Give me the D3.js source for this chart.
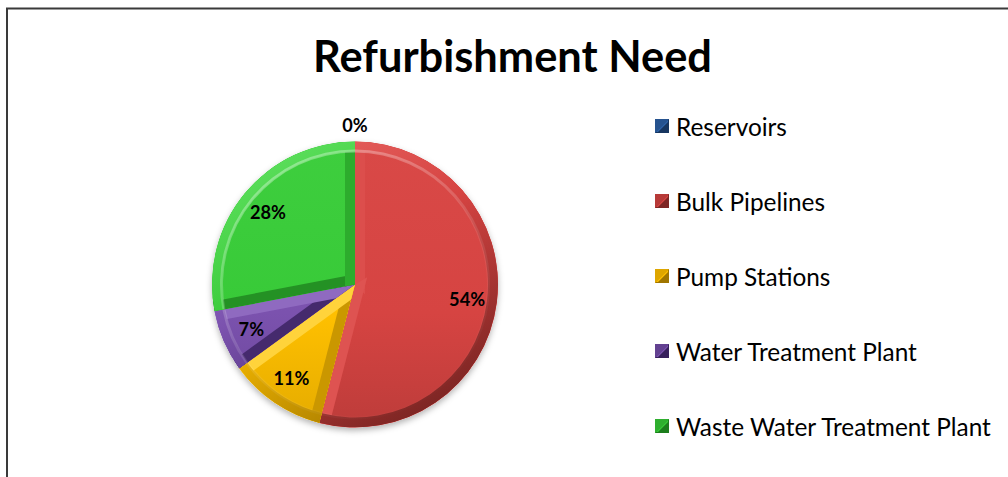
<!DOCTYPE html>
<html>
<head>
<meta charset="utf-8">
<script src="https://cdn.jsdelivr.net/npm/d3@7"></script>
<style>
  html, body { margin: 0; padding: 0; background: #fff; }
  svg { display: block; }
</style>
</head>
<body>
<svg id="chart" width="1008" height="477"></svg>
<script>
// ---- data ----
const title = "Refurbishment Need";
const categories = ["Reservoirs", "Bulk Pipelines", "Pump Stations", "Water Treatment Plant", "Waste Water Treatment Plant"];
const values = [0, 54, 11, 7, 28];
const faceColors  = ["#2e63a8", "#d64442", "#ffc000", "#7b52ae", "#38ca38"];
const lightColors = ["#4f80c4", "#e45e5c", "#ffd84a", "#9672c6", "#58dc58"];
const darkColors  = ["#173660", "#7e2624", "#a07600", "#37205c", "#1d7e1d"];

const W = 1008, H = 477;
const FONT = "Lato, 'Open Sans', sans-serif";
const svg = d3.select("#chart");
const defs = svg.append("defs");

// frame
svg.append("rect").attr("x", 7).attr("y", 8.5).attr("width", W + 10).attr("height", H + 10)
  .attr("fill", "none").attr("stroke", "#3a3a3a").attr("stroke-width", 2);

// helper to fit font size to a target width
function fitSize(text, weight, targetWidth) {
  const t = svg.append("text").attr("font-family", FONT).attr("font-weight", weight)
    .attr("font-size", 100).text(text);
  const w = t.node().getComputedTextLength();
  t.remove();
  return 100 * targetWidth / w;
}

// title
const titleSize = fitSize(title, "bold", 399);
svg.append("text").attr("x", 512.5).attr("y", 72).attr("text-anchor", "middle")
  .attr("font-family", FONT).attr("font-weight", "bold").attr("font-size", titleSize)
  .attr("fill", "#000").text(title);

// ---- pie ----
const cx = 355, cy = 284.5, R = 143, B = 10;
const pie = d3.pie().sort(null).value(d => d).startAngle(0).endAngle(2 * Math.PI);
const arcs = pie(values);
const arcFull = d3.arc().innerRadius(0).outerRadius(R);
const arcRing = d3.arc().innerRadius(R - B).outerRadius(R);
const arcHi = d3.arc().innerRadius(R - B - 1).outerRadius(R - B + 2);
const Lx = -0.5, Ly = -0.866;

// shadow filter
const f = defs.append("filter").attr("id", "shadow").attr("x", "-20%").attr("y", "-20%")
  .attr("width", "140%").attr("height", "140%");
f.append("feDropShadow").attr("dx", 0).attr("dy", 3).attr("stdDeviation", 3)
  .attr("flood-color", "#000").attr("flood-opacity", 0.3);

// highlight gradient for the inner rim of the bevel
const hg = defs.append("linearGradient").attr("id", "hi").attr("gradientUnits", "userSpaceOnUse")
  .attr("x1", Lx * R).attr("y1", Ly * R).attr("x2", -Lx * R).attr("y2", -Ly * R);
hg.append("stop").attr("offset", "0%").attr("stop-color", "#fff").attr("stop-opacity", 0.35);
hg.append("stop").attr("offset", "55%").attr("stop-color", "#fff").attr("stop-opacity", 0.1);
hg.append("stop").attr("offset", "100%").attr("stop-color", "#fff").attr("stop-opacity", 0);

const g = svg.append("g").attr("transform", `translate(${cx},${cy})`);
const shadowG = g.append("g").attr("filter", "url(#shadow)");
shadowG.selectAll("path").data(arcs.filter(d => d.value > 0)).join("path")
  .attr("d", arcFull).attr("fill", (d) => faceColors[d.index]);

arcs.forEach((d, i) => {
  if (d.value <= 0) return;
  const id = "clip" + i;
  defs.append("clipPath").attr("id", id).append("path").attr("d", arcFull(d));
  // face gradient
  const fg = defs.append("linearGradient").attr("id", "face" + i)
    .attr("gradientUnits", "userSpaceOnUse")
    .attr("x1", 0).attr("y1", -R).attr("x2", 0).attr("y2", R);
  fg.append("stop").attr("offset", "0%").attr("stop-color", d3.interpolateRgb(faceColors[i], lightColors[i])(0.2));
  fg.append("stop").attr("offset", "60%").attr("stop-color", faceColors[i]);
  fg.append("stop").attr("offset", "100%").attr("stop-color", d3.interpolateRgb(faceColors[i], darkColors[i])(0.28));
  // ring gradient (light from top-left)
  const rg = defs.append("linearGradient").attr("id", "ring" + i)
    .attr("gradientUnits", "userSpaceOnUse")
    .attr("x1", Lx * R).attr("y1", Ly * R).attr("x2", -Lx * R).attr("y2", -Ly * R);
  rg.append("stop").attr("offset", "0%").attr("stop-color", lightColors[i]);
  rg.append("stop").attr("offset", "40%").attr("stop-color", faceColors[i]);
  rg.append("stop").attr("offset", "100%").attr("stop-color", darkColors[i]);

  const sg = g.append("g").attr("clip-path", `url(#${id})`);
  sg.append("path").attr("d", arcFull(d)).attr("fill", `url(#face${i})`);

  const shade = t => t >= 0 ? d3.interpolateRgb(faceColors[i], lightColors[i])(t)
                            : d3.interpolateRgb(faceColors[i], darkColors[i])(-t);
  // radial edge bands
  const edges = [
    { a: d.startAngle, nIn: [Math.cos(d.startAngle), Math.sin(d.startAngle)] },
    { a: d.endAngle, nIn: [-Math.cos(d.endAngle), -Math.sin(d.endAngle)] }
  ];
  edges.forEach(e => {
    const u = [Math.sin(e.a), -Math.cos(e.a)];
    const nOut = [-e.nIn[0], -e.nIn[1]];
    const br = nOut[0] * Lx + nOut[1] * Ly;
    const pts = [
      [0, 0], [R * u[0], R * u[1]],
      [R * u[0] + B * e.nIn[0], R * u[1] + B * e.nIn[1]],
      [B * e.nIn[0] - B * u[0], B * e.nIn[1] - B * u[1]]
    ];
    sg.append("path").attr("d", d3.line()(pts) + "Z").attr("fill", shade(br * 0.8));
  });
  sg.append("path").attr("d", arcRing(d)).attr("fill", `url(#ring${i})`);
  sg.append("path").attr("d", arcHi(d)).attr("fill", "url(#hi)");
});

// labels
const labelArc = d3.arc().innerRadius(R * 0.79).outerRadius(R * 0.79);
const outerLabelArc = d3.arc().innerRadius(R + 17).outerRadius(R + 17);
const labelSize = fitSize("54%", "bold", 36);
g.selectAll("text.lbl").data(arcs).join("text").attr("class", "lbl")
  .attr("transform", d => `translate(${(d.value > 0 ? labelArc : outerLabelArc).centroid(d)})`)
  .attr("text-anchor", "middle").attr("dominant-baseline", "central")
  .attr("font-family", FONT).attr("font-weight", "bold").attr("font-size", labelSize)
  .attr("fill", "#000")
  .text(d => Math.round(d.value) + "%");

// ---- legend ----
const legendSize = fitSize(categories[4], "normal", 315);
const ly = d3.scalePoint().domain(categories).range([126, 426]);
const leg = svg.append("g");
categories.forEach((c, i) => {
  const y = ly(c);
  const x0 = 655, s = 14, y0 = y - 7;
  leg.append("rect").attr("x", x0).attr("y", y0).attr("width", s).attr("height", s).attr("fill", faceColors[i]);
  leg.append("path").attr("d", `M${x0},${y0 + s}L${x0 + s},${y0}L${x0},${y0}Z`).attr("fill", d3.interpolateRgb(faceColors[i], darkColors[i])(0.35));
  leg.append("path").attr("d", `M${x0},${y0 + s}L${x0 + s},${y0 + s}L${x0 + s},${y0}Z`).attr("fill", darkColors[i]);
  leg.append("path").attr("d", `M${x0 + 3},${y0 + s - 1}L${x0 + s - 1},${y0 + 3}L${x0 + s - 1},${y0 + 1}L${x0 + 1},${y0 + s - 1}Z`).attr("fill", faceColors[i]);
  leg.append("text").attr("x", 676).attr("y", y).attr("dominant-baseline", "central")
    .attr("font-family", FONT).attr("font-size", legendSize).attr("fill", "#000").text(c);
});
</script>
</body>
</html>
